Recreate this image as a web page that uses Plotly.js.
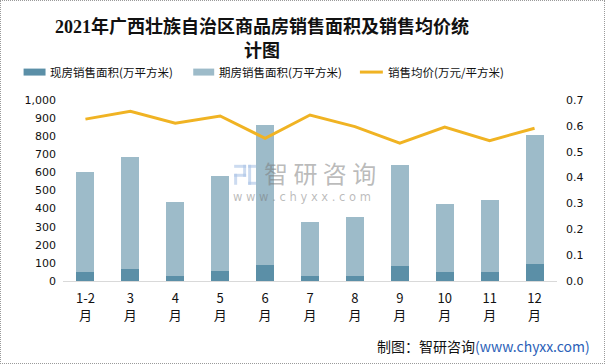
<!DOCTYPE html>
<html><head><meta charset="utf-8">
<script src="https://cdn.plot.ly/plotly-3.0.1.min.js"></script>
<style>html,body{margin:0;padding:0;background:#fff;}#wrap{position:relative;width:605px;height:364px;}
#chart{width:605px;height:364px;}#frame{position:absolute;left:0;top:0;width:603px;height:362px;border:1px dotted #9a9a9a;pointer-events:none;}</style>
</head><body><div id="wrap"><div id="chart"></div><div id="frame"></div></div>
<script>
const months = ['1-2<br>月','3<br>月','4<br>月','5<br>月','6<br>月','7<br>月','8<br>月','9<br>月','10<br>月','11<br>月','12<br>月'];
const spotArea = [52, 69, 25, 58, 91, 25, 30, 85, 47, 47, 96];
const totalArea = [603, 686, 438, 581, 862, 328, 355, 642, 427, 449, 807];
const futureArea = totalArea.map((t, i) => t - spotArea[i]);
const avgPrice = [0.626, 0.656, 0.610, 0.638, 0.552, 0.642, 0.597, 0.533, 0.595, 0.543, 0.591];
const names = ['现房销售面积(万平方米)', '期房销售面积(万平方米)', '销售均价(万元/平方米)'];

const W = 605, H = 364, L = 62.5, R = 47.5, T = 100, B = 82.5;
const pw = W - L - R, ph = H - T - B;
const px = x => (x - L) / pw, py = y => (H - B - y) / ph;
const darkC = '#5B8FA7', lightC = '#9DBBC9', lineC = '#F0B323';
const wmC = 'rgba(120,120,120,0.5)', logoC = 'rgba(170,195,230,0.6)';

const data = [
  {type: 'bar', x: months, y: spotArea, name: names[0], marker: {color: darkC}, width: 0.4, yaxis: 'y'},
  {type: 'bar', x: months, y: futureArea, name: names[1], marker: {color: lightC}, width: 0.4, yaxis: 'y'},
  {type: 'scatter', mode: 'lines', x: months, y: avgPrice, name: names[2], line: {color: lineC, width: 3}, yaxis: 'y2'}
];
const lf = {family: 'Noto Sans CJK SC, sans-serif', size: 11.5, color: '#111'};
const ly = py(72);
const rect = (x0, x1, y0, y1, c) => ({type: 'rect', xref: 'paper', yref: 'paper', x0: px(x0), x1: px(x1), y0: py(y1), y1: py(y0), fillcolor: c, line: {width: 0}, layer: 'below'});
const layout = {
  width: W, height: H, margin: {l: L, r: R, t: T, b: B},
  paper_bgcolor: '#fff', plot_bgcolor: '#fff', barmode: 'stack', showlegend: false,
  title: {text: '2021年广西壮族自治区商品房销售面积及销售均价统<br>计图', x: px(262), xref: 'paper', xanchor: 'center', y: 0.908, yanchor: 'top',
    font: {family: 'Liberation Serif, Noto Sans CJK SC, serif', size: 18, color: '#111', weight: 'bold'}},
  xaxis: {showgrid: false, showline: true, linecolor: '#d9d9d9', linewidth: 1, ticks: '', zeroline: false,
    tickfont: {family: 'Noto Sans CJK SC, sans-serif', size: 13, color: '#111'}, ticklabelstandoff: 5},
  yaxis: {range: [0, 1000], dtick: 100, tickformat: ',d', showgrid: false, zeroline: false, showline: false, ticks: '',
    tickfont: {family: 'DejaVu Sans, sans-serif', size: 11, color: '#111'}, ticklabelstandoff: 6},
  yaxis2: {range: [0, 0.7], dtick: 0.1, tickformat: '.1f', overlaying: 'y', side: 'right', showgrid: false, zeroline: false, showline: false, ticks: '',
    tickfont: {family: 'DejaVu Sans, sans-serif', size: 11, color: '#111'}, ticklabelstandoff: 8},
  shapes: [
    {type: 'rect', xref: 'paper', yref: 'paper', x0: px(23), x1: px(45), y0: py(75.5), y1: py(68.5), fillcolor: darkC, line: {width: 0}},
    {type: 'rect', xref: 'paper', yref: 'paper', x0: px(193), x1: px(214), y0: py(75.5), y1: py(68.5), fillcolor: lightC, line: {width: 0}},
    {type: 'line', xref: 'paper', yref: 'paper', x0: px(360), x1: px(383), y0: ly, y1: ly, line: {color: lineC, width: 3}},
    rect(234, 246, 165, 168, logoC), rect(243, 246, 165, 177, logoC), rect(234, 246, 174, 177, logoC),
    rect(234, 237, 174, 185, logoC), rect(248, 258, 165, 168, logoC), rect(248, 251, 165, 185, logoC), rect(248, 258, 182, 185, logoC)
  ],
  annotations: [
    {xref: 'paper', yref: 'paper', x: px(47), y: ly, xanchor: 'left', yanchor: 'middle', text: names[0], showarrow: false, font: lf},
    {xref: 'paper', yref: 'paper', x: px(216.5), y: ly, xanchor: 'left', yanchor: 'middle', text: names[1], showarrow: false, font: lf},
    {xref: 'paper', yref: 'paper', x: px(386.5), y: ly, xanchor: 'left', yanchor: 'middle', text: names[2], showarrow: false, font: lf},
    {xref: 'paper', yref: 'paper', x: px(593), y: py(347), xanchor: 'right', yanchor: 'middle', showarrow: false,
      text: '制图：智研咨询<span style="color:#2b5fb8">(www.chyxx.com)</span>', font: {family: 'Noto Sans CJK SC, sans-serif', size: 14, color: '#111'}},
    {xref: 'paper', yref: 'paper', x: px(262), y: py(173), xanchor: 'left', yanchor: 'middle', showarrow: false,
      text: '智 研 咨 询', font: {family: 'Noto Sans CJK SC, sans-serif', size: 24, color: wmC}},
    {xref: 'paper', yref: 'paper', x: px(231), y: py(197), xanchor: 'left', yanchor: 'middle', showarrow: false,
      text: 'w w w . c h y x x . c o m', font: {family: 'DejaVu Sans, sans-serif', size: 11.5, color: wmC}}
  ]
};
Plotly.newPlot('chart', data, layout, {displayModeBar: false, staticPlot: true});
</script></body></html>
